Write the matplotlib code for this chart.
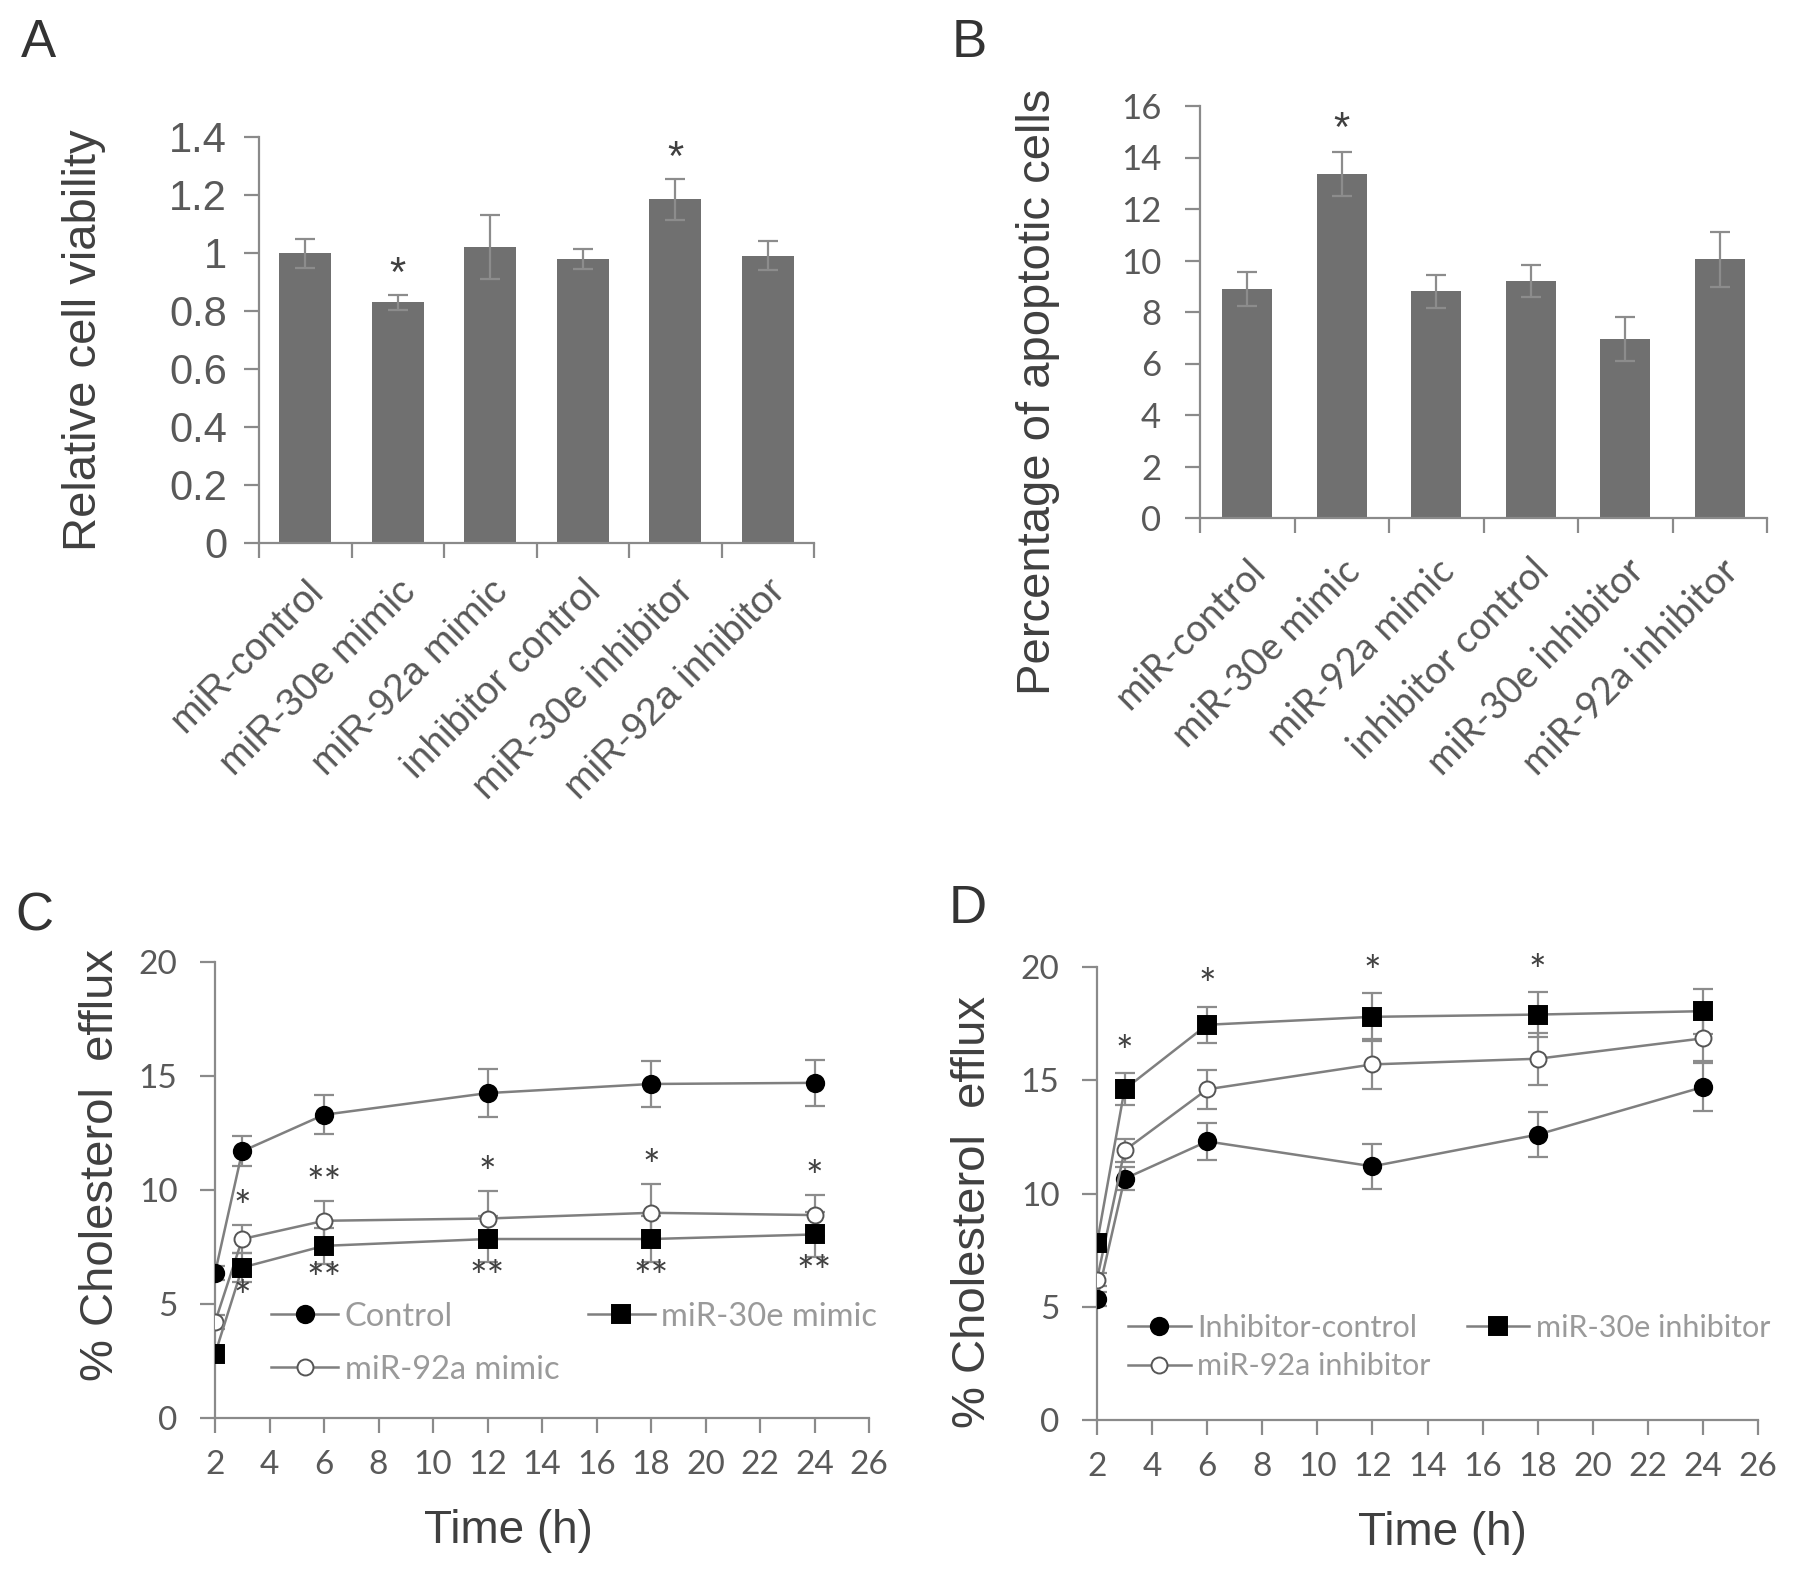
import matplotlib
matplotlib.use('Agg')
import matplotlib.pyplot as plt
import numpy as np

# ---------------- data ----------------
categories = ['miR-control', 'miR-30e mimic', 'miR-92a mimic',
              'inhibitor control', 'miR-30e inhibitor', 'miR-92a inhibitor']
viability = [1.0, 0.83, 1.02, 0.98, 1.185, 0.99]
viability_err = [0.05, 0.025, 0.11, 0.035, 0.07, 0.05]
viability_sig = ['', '*', '', '', '*', '']
viability_ticks = [0, 0.2, 0.4, 0.6, 0.8, 1, 1.2, 1.4]
viability_ticklabels = ['0', '0.2', '0.4', '0.6', '0.8', '1', '1.2', '1.4']

apoptosis = [8.9, 13.35, 8.8, 9.2, 6.95, 10.05]
apoptosis_err = [0.65, 0.85, 0.65, 0.63, 0.87, 1.07]
apoptosis_sig = ['', '*', '', '', '', '']
apoptosis_ticks = [0, 2, 4, 6, 8, 10, 12, 14, 16]

time_h = [2, 3, 6, 12, 18, 24]
time_ticks = [2, 4, 6, 8, 10, 12, 14, 16, 18, 20, 22, 24, 26]
efflux_ticks = [0, 5, 10, 15, 20]

c_control = [6.35, 11.7, 13.3, 14.25, 14.65, 14.7]
c_control_err = [0.3, 0.65, 0.85, 1.05, 1.0, 1.02]
c_92a = [4.2, 7.85, 8.65, 8.75, 9.0, 8.9]
c_92a_err = [0.3, 0.6, 0.85, 1.2, 1.25, 0.9]
c_30e = [2.8, 6.6, 7.55, 7.85, 7.85, 8.05]
c_30e_err = [0.3, 0.65, 0.8, 1.0, 1.0, 1.0]
c_sig_upper = ['', '*', '**', '*', '*', '*']
c_sig_lower = ['', '*', '**', '**', '**', '**']

d_control = [5.35, 10.65, 12.3, 11.2, 12.6, 14.7]
d_control_err = [0.3, 0.5, 0.8, 1.0, 1.0, 1.05]
d_92a = [6.2, 11.9, 14.6, 15.7, 15.95, 16.85]
d_92a_err = [0.3, 0.5, 0.85, 1.1, 1.15, 1.0]
d_30e = [7.8, 14.6, 17.45, 17.8, 17.9, 18.05]
d_30e_err = [0.3, 0.7, 0.8, 1.05, 1.0, 1.0]
d_sig_upper = ['', '*', '*', '*', '*', '']

# ---------------- style ----------------
W, H = 1795, 1579
DPI = 100
ARIAL = ['Liberation Sans', 'DejaVu Sans']
CALIBRI = ['Lato', 'DejaVu Sans']
TICKC = '#595959'
LABELC = '#404040'
AXC = '#8a8a8a'
BARC = '#707070'
ERRC = '#8c8c8c'
LINEC = '#7f7f7f'

fig = plt.figure(figsize=(W / DPI, H / DPI), dpi=DPI)


def px_axes(left, right, top, bottom):
    return fig.add_axes([left / W, 1 - bottom / H, (right - left) / W, (bottom - top) / H])


def style_axes(ax):
    for s in ['top', 'right']:
        ax.spines[s].set_visible(False)
    for s in ['left', 'bottom']:
        ax.spines[s].set_color(AXC)
        ax.spines[s].set_linewidth(1.6)


def bar_panel(ax, values, errs, sig, ticks, ticklabels, ylabel, tickfont, ticksize,
              xfont, xsize, width, sig_off, xpad, ypad):
    x = np.arange(len(values))
    ax.bar(x, values, width=width, color=BARC, zorder=2)
    ax.errorbar(x, values, yerr=errs, fmt='none', ecolor=ERRC, elinewidth=1.6,
                capsize=7, capthick=1.6, zorder=3)
    for xi, v, e, s in zip(x, values, errs, sig):
        if s:
            ax.text(xi, v + e + sig_off, s, ha='center', va='center',
                    fontsize=30, color=LABELC, family=ARIAL)
    ax.set_xlim(-0.5, len(values) - 0.5)
    ax.set_ylim(ticks[0], ticks[-1])
    ax.set_yticks(ticks)
    ax.set_yticklabels(ticklabels, family=tickfont, fontsize=ticksize, color=TICKC)
    ax.set_xticks(x)
    ax.set_xticks(np.arange(len(values) + 1) - 0.5, minor=True)
    ax.set_xticklabels(categories, rotation=45, ha='right', va='top',
                       rotation_mode='anchor', family=xfont, fontsize=xsize, color=TICKC)
    ax.tick_params(axis='x', which='major', length=0, pad=xpad)
    ax.tick_params(axis='x', which='minor', length=11, width=1.6, color=AXC, direction='out')
    ax.tick_params(axis='y', length=11, width=1.6, color=AXC, direction='out', pad=ypad)
    ax.set_ylabel(ylabel, family=ARIAL, fontsize=34, color=LABELC)
    style_axes(ax)


# Panel A
axA = px_axes(259, 814, 137, 543)
bar_panel(axA, viability, viability_err, viability_sig, viability_ticks,
          viability_ticklabels, 'Relative cell viability', ARIAL, 30,
          ARIAL, 28, 0.56, 0.07, 22, 12)
axA.yaxis.set_label_coords(-0.275, 0.5)

# Panel B
axB = px_axes(1200, 1767, 106, 518)
bar_panel(axB, apoptosis, apoptosis_err, apoptosis_sig, apoptosis_ticks,
          [str(t) for t in apoptosis_ticks], 'Percentage of apoptotic cells', CALIBRI, 25,
          CALIBRI, 27, 0.53, 0.85, 25, 17)
axB.yaxis.set_label_coords(-0.247, 0.306)


def line_panel(ax, series, fontsize, legend_kw):
    handles = []
    for vals, errs, label, mk, mfc, mec, ms in series:
        ax.errorbar(time_h, vals, yerr=errs, fmt='none', ecolor=ERRC, elinewidth=1.6,
                    capsize=7, capthick=1.6, zorder=2)
        h, = ax.plot(time_h, vals, color=LINEC, lw=1.8, marker=mk, ms=ms,
                     mfc=mfc, mec=mec, mew=1.4, label=label, zorder=3)
        handles.append(h)
    ax.set_xlim(2, 26)
    ax.set_ylim(0, 20)
    ax.set_xticks(time_ticks)
    ax.set_xticklabels([str(t) for t in time_ticks], family=CALIBRI, fontsize=24, color=TICKC)
    ax.set_yticks(efflux_ticks)
    ax.set_yticklabels([str(t) for t in efflux_ticks], family=CALIBRI, fontsize=24, color=TICKC)
    ax.tick_params(axis='both', length=11, width=1.6, color=AXC, direction='out')
    ax.tick_params(axis='x', pad=12)
    ax.tick_params(axis='y', pad=16)
    ax.set_xlabel('Time (h)', family=ARIAL, fontsize=33, color=LABELC, labelpad=16)
    ax.set_ylabel('% Cholesterol  efflux', family=ARIAL, fontsize=34, color=LABELC)
    style_axes(ax)
    leg = ax.legend(handles=handles, frameon=False, prop={'family': CALIBRI, 'size': fontsize},
                    labelcolor='#9a9a9a', borderpad=0, borderaxespad=0,
                    handlelength=2.05, handletextpad=0.2, **legend_kw)
    return leg


# Panel C
axC = px_axes(215, 869, 962, 1418)
line_panel(axC, [
    (c_control, c_control_err, 'Control', 'o', 'black', 'black', 12.5),
    (c_92a, c_92a_err, 'miR-92a mimic', 'o', 'white', '#555555', 11.5),
    (c_30e, c_30e_err, 'miR-30e mimic', 's', 'black', 'black', 12.5),
], 23.5, dict(loc='upper left', bbox_to_anchor=(0.086, 0.255), ncol=2,
              columnspacing=0.88, labelspacing=0.7))
for t, v, e, s in zip(time_h, c_92a, c_92a_err, c_sig_upper):
    if s:
        axC.text(t, v + e + 0.7, s, ha='center', va='center', fontsize=30,
                 color=LABELC, family=CALIBRI)
for t, v, e, s in zip(time_h, c_30e, c_30e_err, c_sig_lower):
    if s:
        axC.text(t, v - e - 0.75, s, ha='center', va='center', fontsize=30,
                 color=LABELC, family=CALIBRI)
axC.yaxis.set_label_coords(-0.14, 0.555)
axC.xaxis.set_label_coords(0.448, -0.2)

# Panel D
axD = px_axes(1097, 1758, 967, 1420)
line_panel(axD, [
    (d_control, d_control_err, 'Inhibitor-control', 'o', 'black', 'black', 12.5),
    (d_92a, d_92a_err, 'miR-92a inhibitor', 'o', 'white', '#555555', 11.5),
    (d_30e, d_30e_err, 'miR-30e inhibitor', 's', 'black', 'black', 12.5),
], 22, dict(loc='upper left', bbox_to_anchor=(0.047, 0.235), ncol=2,
            columnspacing=1.2, labelspacing=0.35))
for t, v, e, s in zip(time_h, d_30e, d_30e_err, d_sig_upper):
    if s:
        axD.text(t, v + e + 0.85, s, ha='center', va='center', fontsize=30,
                 color=LABELC, family=CALIBRI, clip_on=False)
axD.yaxis.set_label_coords(-0.155, 0.46)
axD.xaxis.set_label_coords(0.522, -0.2)

# Panel letters
for letter, (x, y) in zip(['A', 'B', 'C', 'D'],
                          [(38, 43), (969, 43), (34, 916), (968, 909)]):
    fig.text(x / W, 1 - y / H, letter, ha='center', va='center', fontsize=38,
             color='#333333', family=ARIAL)

fig.savefig('out.png', dpi=DPI, facecolor='white')
